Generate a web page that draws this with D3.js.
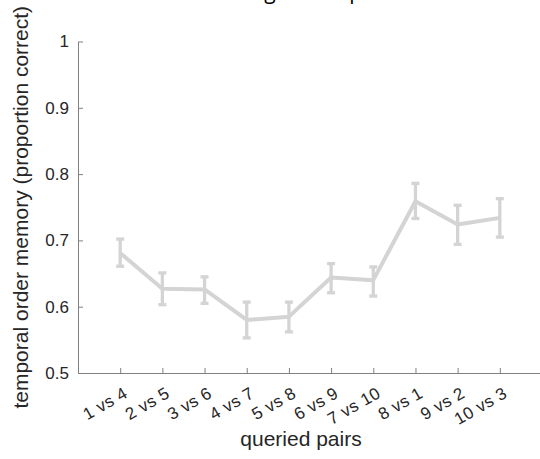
<!DOCTYPE html>
<html>
<head>
<meta charset="utf-8">
<script src="https://cdn.jsdelivr.net/npm/d3@7"></script>
<style>
  html, body { margin: 0; padding: 0; background: #fff; overflow: hidden; }
  svg { display: block; font-family: "Liberation Sans", Arial, sans-serif; }
</style>
</head>
<body>
<svg id="chart" width="540" height="459"></svg>
<script>
// Temporal order memory per queried pair (mean ± error)
const pairs = ["1 vs 4", "2 vs 5", "3 vs 6", "4 vs 7", "5 vs 8", "6 vs 9", "7 vs 10", "8 vs 1", "9 vs 2", "10 vs 3"];
const meanCorrect = [0.681, 0.627, 0.626, 0.580, 0.585, 0.644, 0.640, 0.759, 0.724, 0.734];
const upperBound = [0.702, 0.651, 0.645, 0.607, 0.607, 0.665, 0.660, 0.786, 0.753, 0.763];
const lowerBound = [0.661, 0.603, 0.605, 0.553, 0.562, 0.621, 0.616, 0.733, 0.694, 0.705];
const yTicks = [0.5, 0.6, 0.7, 0.8, 0.9, 1];
const yTickLabels = ["0.5", "0.6", "0.7", "0.8", "0.9", "1"];

const svg = d3.select("#chart");
const plotLeft = 78, plotRight = 542, plotTop = 41.5, plotBottom = 373;

const x = d3.scaleLinear().domain([0, 11]).range([plotLeft, plotRight]);
const y = d3.scaleLinear().domain([0.5, 1]).range([plotBottom, plotTop]);

const axisColor = "#808080";
const textColor = "#262626";
const lineColor = "#d4d4d4";

// Title (sits mostly above the visible area)
svg.append("text")
  .attr("x", 292).attr("y", -1)
  .attr("text-anchor", "middle")
  .attr("font-family", "'Open Sans', sans-serif")
  .attr("font-size", 21)
  .attr("fill", "#000")
  .text("along the loop");

// Y axis
const yAxis = d3.axisLeft(y)
  .tickValues(yTicks)
  .tickFormat((d, i) => yTickLabels[i])
  .tickSizeInner(-5)
  .tickSizeOuter(0)
  .tickPadding(9);
const gy = svg.append("g").attr("transform", `translate(${plotLeft},0)`).call(yAxis);
gy.select(".domain").attr("stroke", axisColor);
gy.selectAll(".tick line").attr("stroke", axisColor);
gy.selectAll(".tick text").attr("fill", textColor).attr("font-size", 17)
  .attr("font-family", "'Liberation Sans', Arial, sans-serif");

// X axis
const xAxis = d3.axisBottom(x)
  .tickValues(d3.range(1, pairs.length + 1))
  .tickFormat(d => pairs[d - 1])
  .tickSizeInner(-5)
  .tickSizeOuter(0);
const gx = svg.append("g").attr("transform", `translate(0,${plotBottom})`).call(xAxis);
gx.select(".domain").attr("stroke", axisColor);
gx.selectAll(".tick line").attr("stroke", axisColor);
gx.selectAll(".tick text")
  .attr("fill", textColor)
  .attr("font-size", 17)
  .attr("letter-spacing", 0.4)
  .attr("font-family", "'Liberation Sans', Arial, sans-serif")
  .attr("text-anchor", "end")
  .attr("dy", null)
  .attr("y", null)
  .attr("transform", "translate(8,23.5) rotate(-30)");

// Axis labels
svg.append("text")
  .attr("x", 301).attr("y", 446)
  .attr("text-anchor", "middle")
  .attr("font-size", 21)
  .attr("fill", textColor)
  .text("queried pairs");

svg.append("text")
  .attr("transform", `translate(27.5,${(plotTop + plotBottom) / 2}) rotate(-90)`)
  .attr("text-anchor", "middle")
  .attr("font-size", 21)
  .attr("fill", textColor)
  .text("temporal order memory (proportion correct)");

// Mean line
const idx = d3.range(pairs.length);
svg.append("path")
  .datum(idx)
  .attr("fill", "none")
  .attr("stroke", lineColor)
  .attr("stroke-width", 4)
  .attr("stroke-linejoin", "round")
  .attr("d", d3.line().x(i => x(i + 1)).y(i => y(meanCorrect[i])));

// Error bars
const eb = svg.append("g").attr("stroke", lineColor).attr("stroke-width", 3.3);
eb.selectAll("line.v").data(idx).join("line").attr("class", "v")
  .attr("x1", i => x(i + 1)).attr("x2", i => x(i + 1))
  .attr("y1", i => y(upperBound[i])).attr("y2", i => y(lowerBound[i]));
eb.selectAll("line.cap-hi").data(idx).join("line").attr("class", "cap-hi")
  .attr("x1", i => x(i + 1) - 4).attr("x2", i => x(i + 1) + 4)
  .attr("y1", i => y(upperBound[i])).attr("y2", i => y(upperBound[i]));
eb.selectAll("line.cap-lo").data(idx).join("line").attr("class", "cap-lo")
  .attr("x1", i => x(i + 1) - 4).attr("x2", i => x(i + 1) + 4)
  .attr("y1", i => y(lowerBound[i])).attr("y2", i => y(lowerBound[i]));
</script>
</body>
</html>
